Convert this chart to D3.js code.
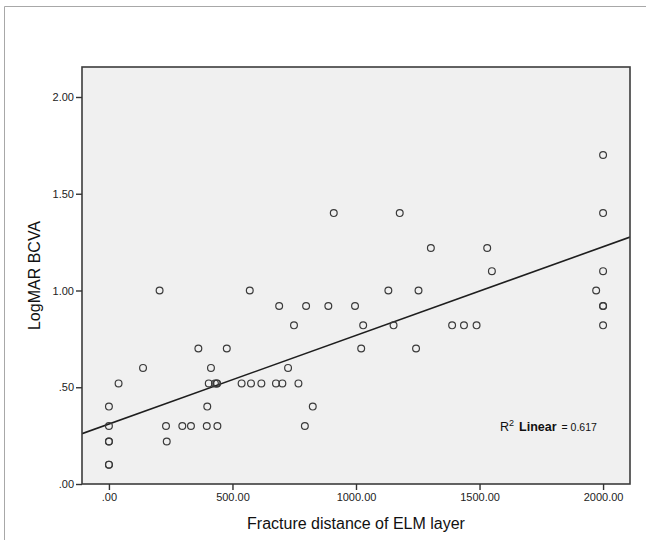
<!DOCTYPE html>
<html>
<head>
<meta charset="utf-8">
<script src="https://cdn.jsdelivr.net/npm/d3@7"></script>
<style>
  body { margin: 0; background: #fff; }
  svg { display: block; font-family: "Liberation Sans", Arial, sans-serif; }
</style>
</head>
<body>
<div id="chart"></div>
<script>
// Fracture distance (x) and LogMAR BCVA (y)
const distance = [
  0, 0, 0, 0, 0, 0, 39, 138, 205, 231, 234, 297, 332, 362, 396, 398, 404, 413,
  429, 436, 438, 439, 477, 537, 570, 575, 617, 676, 689, 702, 725, 749, 767,
  793, 798, 825, 888, 910, 996, 1021, 1029, 1131, 1152, 1177, 1243, 1253,
  1303, 1389, 1437, 1488, 1531, 1550, 1972, 2000, 2000, 2000, 2000, 2000, 2000
];
const logmar = [
  0.40, 0.30, 0.22, 0.22, 0.10, 0.10, 0.52, 0.60, 1.00, 0.30, 0.22, 0.30, 0.30,
  0.70, 0.30, 0.40, 0.52, 0.60, 0.52, 0.52, 0.52, 0.30, 0.70, 0.52, 1.00, 0.52,
  0.52, 0.52, 0.92, 0.52, 0.60, 0.82, 0.52, 0.30, 0.92, 0.40, 0.92, 1.40, 0.92,
  0.70, 0.82, 1.00, 0.82, 1.40, 0.70, 1.00, 1.22, 0.82, 0.82, 0.82, 1.22, 1.10,
  1.00, 1.70, 1.40, 1.10, 0.92, 0.92, 0.82
];
// fitted line (intercept, slope) as drawn
const fitLine = [0.31, 0.000458];
const xTicks = [0, 500, 1000, 1500, 2000];
const yTicks = [0, 0.5, 1.0, 1.5, 2.0];
const xDomain = [-109, 2109];
const yDomain = [0, 2.155];

const width = 646, height = 540;
const plot = { left: 82, right: 630, top: 67, bottom: 484 };

const svg = d3.select("#chart").append("svg")
  .attr("width", width)
  .attr("height", height);

// outer frame
svg.append("path")
  .attr("d", `M 4.5 ${height} L 4.5 6.5 L ${width} 6.5`)
  .attr("fill", "none")
  .attr("stroke", "#a8a8a8")
  .attr("stroke-width", 1);

const x = d3.scaleLinear().domain(xDomain).range([plot.left, plot.right]);
const y = d3.scaleLinear().domain(yDomain).range([plot.bottom, plot.top]);

// format like ".00", "1.50", "500.00"
const fmt = v => v === 0 ? ".00" : (Math.abs(v) < 1 ? d3.format(".2f")(v).replace(/^0/, "") : d3.format(".2f")(v));

// plot background
svg.append("rect")
  .attr("x", plot.left)
  .attr("y", plot.top)
  .attr("width", plot.right - plot.left)
  .attr("height", plot.bottom - plot.top)
  .attr("fill", "#f0f0f0");

// clip for the regression line
svg.append("clipPath").attr("id", "clip")
  .append("rect")
  .attr("x", plot.left)
  .attr("y", plot.top)
  .attr("width", plot.right - plot.left)
  .attr("height", plot.bottom - plot.top);

// regression line
svg.append("line")
  .attr("clip-path", "url(#clip)")
  .attr("x1", x(xDomain[0]))
  .attr("y1", y(fitLine[0] + fitLine[1] * xDomain[0]))
  .attr("x2", x(xDomain[1]))
  .attr("y2", y(fitLine[0] + fitLine[1] * xDomain[1]))
  .attr("stroke", "#1e1e1e")
  .attr("stroke-width", 1.6);

// points
svg.append("g")
  .selectAll("circle")
  .data(distance.map((d, i) => [d, logmar[i]]))
  .join("circle")
  .attr("cx", d => x(d[0]))
  .attr("cy", d => y(d[1]))
  .attr("r", 3.4)
  .attr("fill", "none")
  .attr("stroke", "#3a3a3a")
  .attr("stroke-width", 1.2);

// plot border
svg.append("rect")
  .attr("x", plot.left)
  .attr("y", plot.top)
  .attr("width", plot.right - plot.left)
  .attr("height", plot.bottom - plot.top)
  .attr("fill", "none")
  .attr("stroke", "#3c3c3c")
  .attr("stroke-width", 1.6);

// axes
const xAxis = svg.append("g")
  .attr("transform", `translate(0,${plot.bottom})`)
  .call(d3.axisBottom(x).tickValues(xTicks).tickFormat(fmt).tickSize(6).tickPadding(3));
const yAxis = svg.append("g")
  .attr("transform", `translate(${plot.left},0)`)
  .call(d3.axisLeft(y).tickValues(yTicks).tickFormat(fmt).tickSize(6).tickPadding(2));

[xAxis, yAxis].forEach(g => {
  g.select(".domain").remove();
  g.selectAll(".tick line").attr("stroke", "#333").attr("stroke-width", 1.4);
  g.selectAll(".tick text")
    .attr("fill", "#222")
    .attr("font-size", "11px")
    .attr("font-family", "Liberation Sans, Arial, sans-serif");
});

// axis titles
svg.append("text")
  .attr("x", (plot.left + plot.right) / 2)
  .attr("y", 529)
  .attr("text-anchor", "middle")
  .attr("font-size", "16px")
  .attr("fill", "#111")
  .text("Fracture distance of ELM layer");

svg.append("text")
  .attr("transform", `translate(40,${(plot.top + plot.bottom) / 2}) rotate(-90)`)
  .attr("text-anchor", "middle")
  .attr("font-size", "16px")
  .attr("fill", "#111")
  .text("LogMAR BCVA");

// R² annotation
const ann = svg.append("text")
  .attr("x", 500)
  .attr("y", 431)
  .attr("fill", "#111")
  .attr("font-size", "12.5px");
ann.append("tspan").text("R");
ann.append("tspan").attr("font-size", "9px").attr("dy", -5).text("2");
ann.append("tspan").attr("dy", 5).attr("dx", 5).attr("font-weight", "bold").text("Linear");
ann.append("tspan").attr("dx", 5).attr("font-size", "10.5px").text("= 0.617");
</script>
</body>
</html>
